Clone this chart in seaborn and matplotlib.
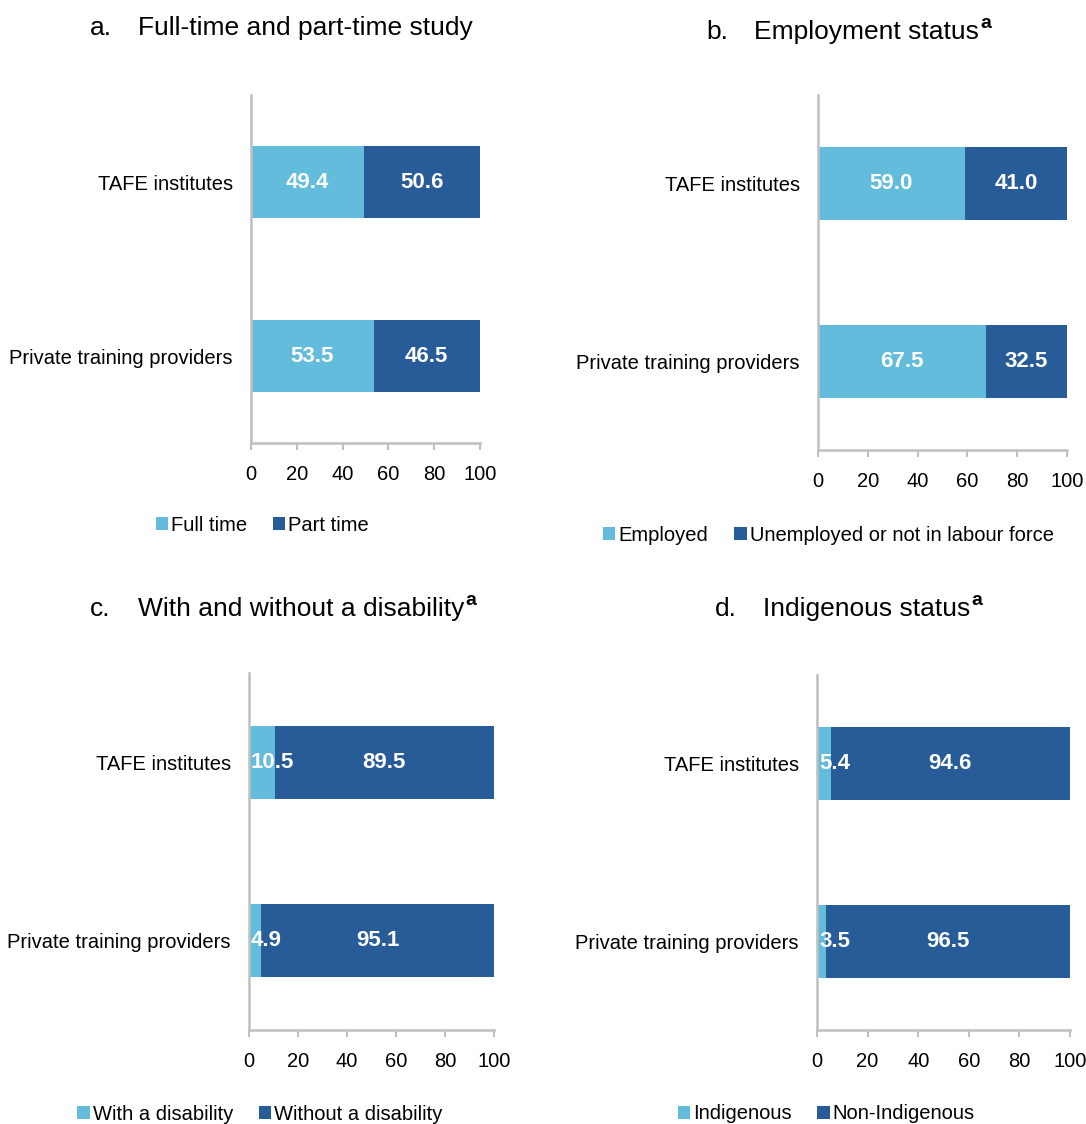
import matplotlib
matplotlib.use('Agg')
import matplotlib.pyplot as plt
from matplotlib.patches import Patch
import seaborn as sns
import pandas as pd

# chart values
providers = ["TAFE institutes", "Private training providers"]

study_full = [49.4, 53.5]
study_part = [50.6, 46.5]

emp_employed = [59.0, 67.5]
emp_not = [41.0, 32.5]

dis_with = [10.5, 4.9]
dis_without = [89.5, 95.1]

ind_yes = [5.4, 3.5]
ind_no = [94.6, 96.5]

panels = [
    ("a.", "Full-time and part-time study", False, study_full, study_part, ["Full time", "Part time"]),
    ("b.", "Employment status", True, emp_employed, emp_not, ["Employed", "Unemployed or not in labour force"]),
    ("c.", "With and without a disability", True, dis_with, dis_without, ["With a disability", "Without a disability"]),
    ("d.", "Indigenous status", True, ind_yes, ind_no, ["Indigenous", "Non-Indigenous"]),
]

LIGHT = "#63BCDB"
DARK = "#285C99"
GREY = "#BFBFBF"

sns.set_theme(style="white")
FONT = ["Liberation Sans", "DejaVu Sans"]
plt.rcParams['font.family'] = FONT
plt.rcParams['text.color'] = 'black'
plt.rcParams['xtick.color'] = 'black'
plt.rcParams['ytick.color'] = 'black'

W, H = 1086, 1124
fig = plt.figure(figsize=(W / 100, H / 100), dpi=100)

# axes boxes in pixels: left, top, right, bottom
boxes = [(251, 95, 480, 443), (818, 95, 1067, 450), (249, 673, 494, 1030), (817, 675, 1070, 1030)]
title_pos = [(90, 28), (706, 32), (90, 609), (715, 609)]
legend_anchor = [(0.05, -0.236), (0.042, -0.24), (0.045, -0.236), (0.036, -0.236)]

for (lab, title, sup, first, second, names), box, tp, la in zip(panels, boxes, title_pos, legend_anchor):
    l, t, r, b = box
    ax = fig.add_axes([l / W, 1 - b / H, (r - l) / W, (b - t) / H])
    df = pd.DataFrame({"provider": providers, "first": first,
                       "total": [f + s for f, s in zip(first, second)]})
    sns.barplot(data=df, y="provider", x="total", color=DARK, width=0.41,
                saturation=1, ax=ax, linewidth=0)
    sns.barplot(data=df, y="provider", x="first", color=LIGHT, width=0.41,
                saturation=1, ax=ax, linewidth=0)
    ax.set_xlim(0, 100)
    ax.set_ylim(1.5, -0.5)
    ax.set_xlabel("")
    ax.set_ylabel("")
    ax.set_xticks(range(0, 101, 20))
    for side in ["top", "right"]:
        ax.spines[side].set_visible(False)
    for side in ["left", "bottom"]:
        ax.spines[side].set_color(GREY)
        ax.spines[side].set_linewidth(1.8)
    ax.tick_params(axis="x", length=5, width=1.5, color=GREY, labelcolor="black", pad=11,
                   labelsize=14.5, bottom=True, direction="out")
    ax.tick_params(axis="y", length=0, pad=13, labelsize=14.5, labelcolor="black")

    # segment labels
    for i, (f, s) in enumerate(zip(first, second)):
        if f >= 20:
            ax.text(f / 2, i, f"{f:.1f}", ha="center", va="center", color="white",
                    fontsize=16, fontweight="bold")
        else:
            ax.text(0.8, i, f"{f:.1f}", ha="left", va="center", color="white",
                    fontsize=16, fontweight="bold")
        ax.text(f + s / 2, i, f"{s:.1f}", ha="center", va="center", color="white",
                fontsize=16, fontweight="bold")

    handles = [Patch(facecolor=LIGHT, edgecolor="none"), Patch(facecolor=DARK, edgecolor="none")]
    ax.legend(handles, names, loc="center", bbox_to_anchor=la, ncol=2, frameon=False,
              fontsize=14.5, handlelength=0.6, handleheight=0.6, handletextpad=0.15,
              columnspacing=1.3, labelcolor="black")

    # panel titles
    fig.text(tp[0] / W, 1 - tp[1] / H, lab, ha="left", va="center", fontsize=19)
    tt = fig.text((tp[0] + 48) / W, 1 - tp[1] / H, title, ha="left", va="center",
                  fontsize=19)
    if sup:
        fig.canvas.draw()
        bb = tt.get_window_extent(fig.canvas.get_renderer())
        fig.text(bb.x1 / W + 0.001, (1 - tp[1] / H) + 0.008, "a", ha="left", va="center",
                 fontsize=14, fontweight="bold")

fig.savefig("out.png", dpi=100)
